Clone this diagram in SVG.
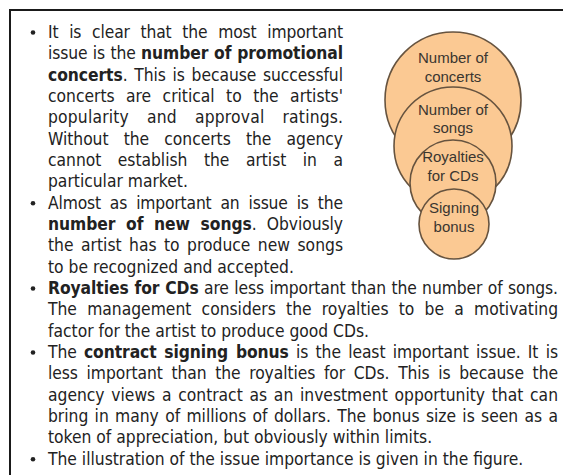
<svg xmlns="http://www.w3.org/2000/svg" width="563" height="475" viewBox="0 0 563 475">
<style>
.t{font-family:'DejaVu Sans Condensed','DejaVu Sans',sans-serif;font-stretch:condensed;font-size:17.3px;fill:#222}
.b{font-weight:bold}
.bul{fill:#222}
.c{fill:#fbc993;stroke:#66533f;stroke-width:1.6}
.cl{font-family:'Liberation Sans',Arial,sans-serif;font-size:15px;fill:#3a3630;text-anchor:middle}
</style>
<rect width="563" height="475" fill="#fff"/>
<path d="M10,476 V10 H564" fill="none" stroke="#1a1a1a" stroke-width="2"/>
<g id="diagram">
<g id="node-concerts"><circle class="c" cx="453" cy="100" r="68"/><text class="cl" x="453" y="63">Number of</text><text class="cl" x="453" y="82">concerts</text></g>
<g id="node-songs"><circle class="c" cx="453" cy="146" r="59"/><text class="cl" x="453" y="115">Number of</text><text class="cl" x="453" y="133">songs</text></g>
<g id="node-royalties"><circle class="c" cx="453" cy="183" r="43"/><text class="cl" x="453" y="162">Royalties</text><text class="cl" x="453" y="181">for CDs</text></g>
<g id="node-bonus"><circle class="c" cx="454" cy="224" r="35"/><text class="cl" x="454" y="213">Signing</text><text class="cl" x="454" y="232">bonus</text></g>
</g>
<g id="text-block">
<circle class="bul" cx="33" cy="32.5" r="2.3"/>
<circle class="bul" cx="33" cy="203.2" r="2.3"/>
<circle class="bul" cx="33" cy="288.5" r="2.3"/>
<circle class="bul" cx="33" cy="352.5" r="2.3"/>
<circle class="bul" cx="33" cy="459.2" r="2.3"/>
<text class="t" x="48" y="38" word-spacing="6" textLength="295" lengthAdjust="spacing">It is clear that the most important</text>
<text class="t" x="48" y="59.3" word-spacing="0.5" textLength="295" lengthAdjust="spacing">issue is the <tspan class="b">number of promotional</tspan></text>
<text class="t" x="48" y="80.7" word-spacing="1.8" textLength="295" lengthAdjust="spacing"><tspan class="b">concerts</tspan>. This is because successful</text>
<text class="t" x="48" y="102" word-spacing="6.5" textLength="295" lengthAdjust="spacing">concerts are critical to the artists'</text>
<text class="t" x="48" y="123.3" word-spacing="13" textLength="295" lengthAdjust="spacing">popularity and approval ratings.</text>
<text class="t" x="48" y="144.7" word-spacing="10.3" textLength="295" lengthAdjust="spacing">Without the concerts the agency</text>
<text class="t" x="48" y="166" word-spacing="11.6" textLength="295" lengthAdjust="spacing">cannot establish the artist in a</text>
<text class="t" x="48" y="187.3">particular market.</text>
<text class="t" x="48" y="208.7" word-spacing="4.2" textLength="295" lengthAdjust="spacing">Almost as important an issue is the</text>
<text class="t" x="48" y="230" word-spacing="5.3" textLength="295" lengthAdjust="spacing"><tspan class="b">number of new songs</tspan>. Obviously</text>
<text class="t" x="48" y="251.3" word-spacing="2.5" textLength="295" lengthAdjust="spacing">the artist has to produce new songs</text>
<text class="t" x="48" y="272.7">to be recognized and accepted.</text>
<text class="t" x="48" y="294" word-spacing="0.5" textLength="510" lengthAdjust="spacing"><tspan class="b">Royalties for CDs</tspan> are less important than the number of songs.</text>
<text class="t" x="48" y="315.3" word-spacing="5.3" textLength="510" lengthAdjust="spacing">The management considers the royalties to be a motivating</text>
<text class="t" x="48" y="336.7">factor for the artist to produce good CDs.</text>
<text class="t" x="48" y="358" word-spacing="2.4" textLength="510" lengthAdjust="spacing">The <tspan class="b">contract signing bonus</tspan> is the least important issue. It is</text>
<text class="t" x="48" y="379.3" word-spacing="3.8" textLength="510" lengthAdjust="spacing">less important than the royalties for CDs. This is because the</text>
<text class="t" x="48" y="400.7" word-spacing="1.8" textLength="510" lengthAdjust="spacing">agency views a contract as an investment opportunity that can</text>
<text class="t" x="48" y="422" word-spacing="1.4" textLength="510" lengthAdjust="spacing">bring in many of millions of dollars. The bonus size is seen as a</text>
<text class="t" x="48" y="443.3">token of appreciation, but obviously within limits.</text>
<text class="t" x="48" y="464.7">The illustration of the issue importance is given in the figure.</text>
</g>
</svg>
